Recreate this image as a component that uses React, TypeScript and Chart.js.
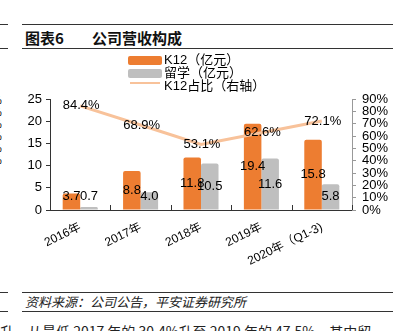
import React, { useEffect, useRef } from "react";
import { Chart, registerables } from "chart.js";

Chart.register(...registerables);

const categories = ["2016年", "2017年", "2018年", "2019年", "2020年（Q1-3)"];
const k12Values = [3.7, 8.8, 11.8, 19.4, 15.8];
const studyAbroadValues = [0.7, 4.0, 10.5, 11.6, 5.8];
const k12Share = [84.4, 68.9, 53.1, 62.6, 72.1];
const leftTicks = [0, 5, 10, 15, 20, 25];
const rightTicks = [0, 10, 20, 30, 40, 50, 60, 70, 80, 90];

const ORANGE = "#ED7D31";
const GRAY = "#BFBFBF";
const LINE = "#F8C29A";
const NUM_FONT = "'Liberation Sans', Arial, sans-serif";
const CJK_FONT = "'Liberation Sans', 'Noto Sans CJK SC', sans-serif";

const labelPlugin = {
  id: "valueLabels",
  afterDatasetsDraw(chart: any) {
    const ctx = chart.ctx;
    const area = chart.chartArea;
    ctx.save();
    ctx.fillStyle = "#000";
    ctx.font = "13px " + NUM_FONT;
    ctx.textAlign = "center";
    ctx.textBaseline = "middle";
    [0, 1].forEach((di) => {
      const meta = chart.getDatasetMeta(di);
      const vals = chart.data.datasets[di].data;
      meta.data.forEach((bar: any, i: number) => {
        let y = (bar.y + bar.base) / 2;
        y = Math.min(y, area.bottom - 14);
        ctx.fillText(Number(vals[i]).toFixed(1), bar.x, y);
      });
    });
    const lm = chart.getDatasetMeta(2);
    lm.data.forEach((pt: any, i: number) => {
      ctx.fillText(k12Share[i].toFixed(1) + "%", pt.x + 1, pt.y);
    });
    // inward x-axis ticks at category boundaries
    ctx.strokeStyle = "#333";
    ctx.lineWidth = 1;
    const n = categories.length;
    const w = (area.right - area.left) / n;
    for (let i = 1; i <= n; i++) {
      const x = Math.round(area.left + w * i) + 0.5;
      ctx.beginPath();
      ctx.moveTo(x, area.bottom);
      ctx.lineTo(x, area.bottom - 5);
      ctx.stroke();
    }
    ctx.restore();
  },
};

export default function App() {
  const ref = useRef<HTMLCanvasElement>(null);
  useEffect(() => {
    document.body.style.margin = "0";
    const chart = new Chart(ref.current!, {
      type: "bar",
      plugins: [labelPlugin],
      data: {
        labels: categories,
        datasets: [
          {
            type: "bar",
            label: "K12（亿元）",
            data: k12Values,
            backgroundColor: ORANGE,
            borderRadius: { topLeft: 2, topRight: 2 },
            borderSkipped: "bottom",
            yAxisID: "y",
            categoryPercentage: 0.58,
            barPercentage: 1,
            order: 2,
          },
          {
            type: "bar",
            label: "留学（亿元）",
            data: studyAbroadValues,
            backgroundColor: GRAY,
            borderRadius: { topLeft: 2, topRight: 2 },
            borderSkipped: "bottom",
            yAxisID: "y",
            categoryPercentage: 0.58,
            barPercentage: 1,
            order: 2,
          },
          {
            type: "line",
            label: "K12占比（右轴）",
            data: k12Share,
            borderColor: LINE,
            borderWidth: 3,
            pointRadius: 0,
            yAxisID: "y1",
            order: 1,
          } as any,
        ],
      },
      options: {
        animation: false,
        responsive: false,
        layout: { padding: { top: 49, left: 0, right: 0, bottom: 0 } },
        plugins: { legend: { display: false }, tooltip: { enabled: false } },
        scales: {
          x: {
            grid: { display: false, drawOnChartArea: false },
            border: { color: "#333", width: 1 },
            ticks: {
              color: "#000",
              font: { size: 12, family: CJK_FONT },
              minRotation: 26,
              maxRotation: 26,
              padding: 2,
              autoSkip: false,
            },
            afterFit(scale: any) {
              scale.height = 55;
            },
          },
          y: {
            position: "left",
            min: 0,
            max: 25,
            afterBuildTicks(scale: any) {
              scale.ticks = leftTicks.map((v) => ({ value: v }));
            },
            grid: { drawOnChartArea: false, drawTicks: true, tickLength: 4, color: "#333" },
            border: { color: "#333", width: 1 },
            ticks: { color: "#000", font: { size: 13, family: NUM_FONT }, padding: 4, autoSkip: false },
            afterFit(scale: any) {
              scale.width = 50;
            },
          },
          y1: {
            position: "right",
            min: 0,
            max: 90,
            afterBuildTicks(scale: any) {
              scale.ticks = rightTicks.map((v) => ({ value: v }));
            },
            grid: { drawOnChartArea: false, drawTicks: true, tickLength: 4, color: "#999" },
            border: { color: "#999", width: 1 },
            ticks: {
              color: "#000",
              font: { size: 13, family: NUM_FONT },
              padding: 6,
              autoSkip: false,
              callback: (v: any) => v + "%",
            },
            afterFit(scale: any) {
              scale.width = 52;
            },
          },
        },
      },
    });
    return () => chart.destroy();
  }, []);

  const hl = (top: number, left: number, width: number, color = "#333") => (
    <div style={{ position: "absolute", top, left, width, height: 1, background: color }} />
  );

  return (
    <div
      style={{
        position: "relative",
        width: 404,
        height: 331,
        overflow: "hidden",
        background: "#fff",
        fontFamily: "'Noto Sans CJK SC', sans-serif",
      }}
    >
      {hl(24, 0, 8)}
      {hl(24, 22, 371)}
      <div style={{ position: "absolute", top: 28, left: 25, fontSize: 15, fontWeight: 700, lineHeight: "20px", color: "#111", whiteSpace: "nowrap" }}>
        图表6
      </div>
      <div style={{ position: "absolute", top: 28, left: 92, fontSize: 15, fontWeight: 700, lineHeight: "20px", color: "#111", whiteSpace: "nowrap" }}>
        公司营收构成
      </div>
      {hl(48, 0, 8)}
      {hl(48, 22, 371)}
      {[94, 106, 118, 130, 142, 154].map((t) => (
        <div key={t} style={{ position: "absolute", top: t, left: -8, fontSize: 11, fontFamily: NUM_FONT, lineHeight: "12px" }}>%</div>
      ))}
      <canvas ref={ref} width={404} height={215} style={{ position: "absolute", left: 0, top: 50, width: 404, height: 215 }} />
      <div style={{ position: "absolute", top: 56, left: 128, width: 34, height: 9, background: ORANGE, borderRadius: 2 }} />
      <div style={{ position: "absolute", top: 69, left: 128, width: 34, height: 9, background: GRAY, borderRadius: 2 }} />
      <div style={{ position: "absolute", top: 82, left: 130, width: 30, height: 2, background: LINE }} />
      {[
        ["K12（亿元）", 52],
        ["留学（亿元）", 65],
        ["K12占比（右轴）", 78],
      ].map(([t, top]) => (
        <div
          key={t as string}
          style={{ position: "absolute", top: top as number, left: 164, fontSize: 13, lineHeight: "16px", fontFamily: CJK_FONT, whiteSpace: "nowrap", color: "#000" }}
        >
          {t}
        </div>
      ))}
      {hl(292, 0, 8)}
      {hl(292, 22, 371)}
      <div style={{ position: "absolute", top: 294, left: 25, fontSize: 13, lineHeight: "16px", fontStyle: "italic", color: "#222", whiteSpace: "nowrap" }}>
        资料来源：公司公告，平安证券研究所
      </div>
      {hl(311, 0, 8)}
      {hl(311, 22, 371)}
      <div style={{ position: "absolute", top: 322, left: 0, fontSize: 14, lineHeight: "18px", color: "#222", whiteSpace: "nowrap" }}>
        升，从最低 2017 年的 30.4%升至 2019 年的 47.5%，其中留
      </div>
    </div>
  );
}
